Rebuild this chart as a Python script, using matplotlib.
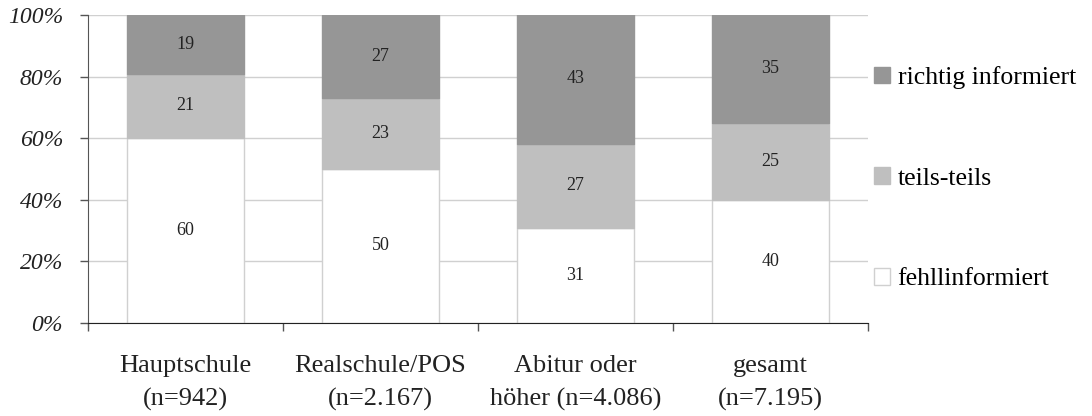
import matplotlib
matplotlib.use("Agg")
import matplotlib.pyplot as plt
import numpy as np

plt.rcParams['font.family'] = ['Liberation Serif', 'DejaVu Serif']

categories = ["Hauptschule\n(n=942)", "Realschule/POS\n(n=2.167)",
              "Abitur oder\nhöher (n=4.086)", "gesamt\n(n=7.195)"]
fehlinformiert = [60, 50, 31, 40]
teils = [21, 23, 27, 25]
richtig = [19, 27, 43, 35]
series_names = ["fehllinformiert", "teils-teils", "richtig informiert"]
y_ticks = [0, 20, 40, 60, 80, 100]

colors = ["#ffffff", "#bfbfbf", "#969696"]
edges = ["#d0d0d0", "#bfbfbf", "#969696"]

fig = plt.figure(figsize=(10.92, 4.16), dpi=100)
ax = fig.add_axes([88 / 1092, 1 - 323 / 416, 780 / 1092, 308 / 416])

x = np.arange(len(categories))
bottom = np.zeros(len(categories))
handles = []
for vals, c, ec, name in zip([fehlinformiert, teils, richtig], colors, edges, series_names):
    bars = ax.bar(x, vals, width=0.595, bottom=bottom, color=c, edgecolor=ec,
                  linewidth=1.0, label=name, zorder=2)
    handles.append(bars)
    for xi, b, v in zip(x, bottom, vals):
        ax.text(xi, b + v / 2, str(v), ha="center", va="center", fontsize=13,
                color="#222222", zorder=3)
    bottom += np.array(vals)

ax.set_xlim(-0.5, len(categories) - 0.5)
ax.set_ylim(0, 100)
ax.set_yticks(y_ticks)
ax.set_yticklabels([f"{t}%" for t in y_ticks], fontsize=17, style="italic", color="#222222")
ax.yaxis.grid(True, color="#d0d0d0", linewidth=1.0, zorder=0)
ax.set_axisbelow(True)

ax.set_xticks(x)
ax.set_xticklabels(categories, fontsize=19, color="#222222", linespacing=1.6)
ax.tick_params(axis="x", which="major", length=0, pad=23)
ax.set_xticks(np.arange(-0.5, len(categories), 1.0), minor=True)
ax.tick_params(axis="x", which="minor", length=6, color="#555555", width=1.0)
ax.tick_params(axis="y", length=6, color="#555555", width=1.0, pad=12)

for s in ["top", "right"]:
    ax.spines[s].set_visible(False)
ax.spines["left"].set_color("#555555")
ax.spines["bottom"].set_color("#222222")

leg_handles = handles[::-1]
leg = fig.legend(leg_handles, [h.get_label() for h in leg_handles],
                 loc="upper left", bbox_to_anchor=(874 / 1092, 1 - 66 / 416),
                 frameon=False, fontsize=18.5, handlelength=0.62, handleheight=0.62,
                 handletextpad=0.3, labelspacing=3.05, borderaxespad=0,
                 borderpad=0)

fig.savefig("out.png", dpi=100)
